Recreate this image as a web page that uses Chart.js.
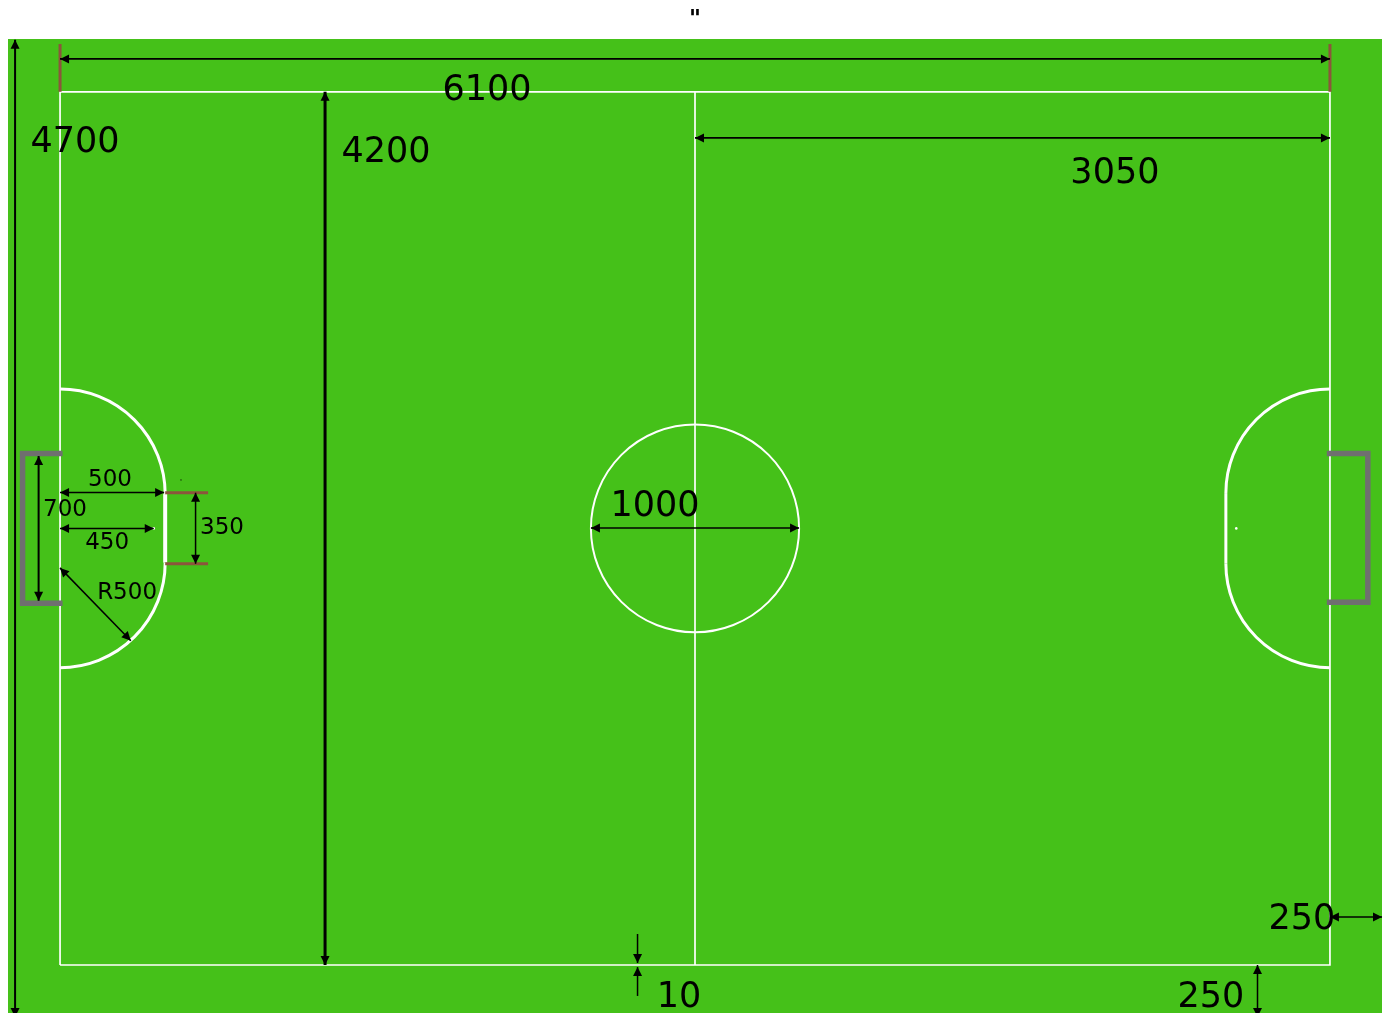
<!DOCTYPE html>
<html>
<head>
<meta charset="utf-8">
<title>Field dimensions</title>
<script src="https://cdn.jsdelivr.net/npm/chart.js@4/dist/chart.umd.min.js"></script>
<style>
  html, body { margin: 0; padding: 0; background: #fff; overflow: hidden; }
  canvas { display: block; }
</style>
</head>
<body>
<canvas id="field" width="1388" height="1013"></canvas>
<script>
// field dimensions, all in mm-like units
const xRange = [-250, 6350];
const yRange = [-231, 4454];

const pitchOutline = [[0, 0], [6100, 0], [6100, 4200], [0, 4200], [0, 0]];
const halfwayLine = [[3050, 0], [3050, 4200]];
const penaltyLineLeft = [[505, 1935], [505, 2265]];
const penaltyLineRight = [[5600, 1930], [5600, 2270]];
const goalLeft = [[12, 2460], [-180, 2460], [-180, 1740], [12, 1740]];
const goalRight = [[6085, 2460], [6282, 2460], [6282, 1745], [6085, 1745]];

// x, y, radius, start angle, end angle (degrees, canvas direction)
const centreCircle = [3050, 2100, 500, 0, 360];
const arcTopLeft = [0, 2265, 505, 270, 360];
const arcBottomLeft = [0, 1935, 505, 0, 90];
const arcTopRight = [6100, 2270, 500, 180, 270];
const arcBottomRight = [6100, 1930, 500, 90, 180];

const penaltySpots = [[450, 2100], [5650, 2100]];
const strayDot = [[581, 2333]];

const tickLeftWidth = [[0, 4200], [0, 4430]];
const tickRightWidth = [[6100, 4200], [6100, 4430]];
const tickTopArea = [[505, 2272], [711, 2272]];
const tickBottomArea = [[505, 1930], [711, 1930]];

const arrowTotalHeight = [[-216, -250], [-216, 4450]];
const arrowWidth = [[0, 4358], [6100, 4358]];
const arrowHeight = [[1273, 0], [1273, 4200]];
const arrowHalfWidth = [[3050, 3978], [6100, 3978]];
const arrowCircle = [[2550, 2102], [3550, 2102]];
const arrowArea = [[0, 2273], [500, 2273]];
const arrowSpot = [[0, 2100], [450, 2100]];
const arrowGoal = [[-103, 2448], [-103, 1752]];
const arrowOpening = [[651, 2272], [651, 1930]];
const arrowRadius = [[0, 1910], [340, 1560]];
const arrowLineUpper = [[2774, 149], [2774, 10]];
const arrowLineLower = [[2774, -149], [2774, -10]];
const arrowMarginRight = [[6100, 231], [6350, 231]];
const arrowMarginBottom = [[5752, 0], [5752, -250]];

const labelTexts = ['6100', '4700', '4200', '3050', '1000', '10', '250', '250', '500', '700', '450', '350', 'R500'];
const labelX = [2051, 72, 1566, 5067, 2858, 2973, 5965, 5528, 240, 24, 226, 778, 322];
const labelY = [4206, 3956, 3908, 3807, 2205, -156, 219, -156, 2331, 2186, 2028, 2100, 1787];
const labelSizes = [35, 35, 35, 35, 35, 35, 35, 35, 23, 23, 23, 23, 23];

const GRASS = '#45c119';
const WHITE = '#ffffff';
const GREY = '#6f6f6f';
const BROWN = '#8c553c';
const BLACK = '#000000';

function line(points, color, width, heads) {
    return {
        data: points.map(p => ({ x: p[0], y: p[1] })),
        showLine: true,
        borderColor: color,
        borderWidth: width,
        pointRadius: 0,
        heads: heads || null
    };
}

function arc(values, width) {
    return {
        data: [{ x: values[0], y: values[1] }],
        showLine: false,
        pointRadius: 0,
        arc: { r: values[2], start: values[3], end: values[4], width: width }
    };
}

function dots(points, color, radius) {
    return {
        data: points.map(p => ({ x: p[0], y: p[1] })),
        showLine: false,
        pointRadius: radius,
        pointBorderWidth: 0,
        pointBackgroundColor: color
    };
}

const fieldBackground = {
    id: 'fieldBackground',
    beforeDraw(chart) {
        const a = chart.chartArea;
        chart.ctx.save();
        chart.ctx.fillStyle = GRASS;
        chart.ctx.fillRect(a.left, a.top, a.width, a.height);
        chart.ctx.restore();
    }
};

// circle and penalty arcs, radius goes through the scales
const fieldArcs = {
    id: 'fieldArcs',
    beforeDatasetsDraw(chart) {
        const ctx = chart.ctx;
        const sx = chart.scales.x, sy = chart.scales.y;
        chart.data.datasets.forEach((ds, i) => {
            if (!ds.arc) return;
            const el = chart.getDatasetMeta(i).data[0];
            const rx = Math.abs(sx.getPixelForValue(ds.arc.r) - sx.getPixelForValue(0));
            const ry = Math.abs(sy.getPixelForValue(ds.arc.r) - sy.getPixelForValue(0));
            ctx.save();
            ctx.strokeStyle = WHITE;
            ctx.lineWidth = ds.arc.width;
            ctx.beginPath();
            ctx.ellipse(el.x, el.y, rx, ry, 0, ds.arc.start * Math.PI / 180, ds.arc.end * Math.PI / 180);
            ctx.stroke();
            ctx.restore();
        });
    }
};

function drawHead(ctx, tip, from) {
    const angle = Math.atan2(tip.y - from.y, tip.x - from.x);
    ctx.save();
    ctx.translate(tip.x, tip.y);
    ctx.rotate(angle);
    ctx.beginPath();
    ctx.moveTo(0, 0);
    ctx.lineTo(-9, -4.5);
    ctx.lineTo(-9, 4.5);
    ctx.closePath();
    ctx.fill();
    ctx.restore();
}

// arrow heads and dimension texts
const annotations = {
    id: 'annotations',
    afterDatasetsDraw(chart) {
        const ctx = chart.ctx;
        const a = chart.chartArea;
        ctx.save();
        ctx.beginPath();
        ctx.rect(a.left, a.top, a.width, a.height);
        ctx.clip();
        ctx.fillStyle = BLACK;
        chart.data.datasets.forEach((ds, i) => {
            if (!ds.heads) return;
            const pts = chart.getDatasetMeta(i).data;
            drawHead(ctx, pts[1], pts[0]);
            if (ds.heads === 'both') drawHead(ctx, pts[0], pts[1]);
        });
        ctx.textAlign = 'center';
        ctx.textBaseline = 'middle';
        labelTexts.forEach((t, i) => {
            ctx.font = labelSizes[i] + 'px "DejaVu Sans"';
            ctx.fillText(t, chart.scales.x.getPixelForValue(labelX[i]), chart.scales.y.getPixelForValue(labelY[i]));
        });
        ctx.restore();
    }
};

const datasets = [
    line(arrowTotalHeight, BLACK, 2, 'both'),
    line(arrowWidth, BLACK, 1.7, 'both'),
    line(arrowHeight, BLACK, 3, 'both'),
    line(arrowHalfWidth, BLACK, 1.7, 'both'),
    line(arrowCircle, BLACK, 1.5, 'both'),
    line(arrowArea, BLACK, 1.5, 'both'),
    line(arrowSpot, BLACK, 1.5, 'both'),
    line(arrowGoal, BLACK, 2, 'both'),
    line(arrowOpening, BLACK, 1.5, 'both'),
    line(arrowRadius, BLACK, 1.5, 'both'),
    line(arrowLineUpper, BLACK, 1.5, 'end'),
    line(arrowLineLower, BLACK, 1.5, 'end'),
    line(arrowMarginRight, BLACK, 1.5, 'both'),
    line(arrowMarginBottom, BLACK, 1.5, 'both'),
    dots(strayDot, BLACK, 0.6),
    dots(penaltySpots, WHITE, 1.3),
    line(tickLeftWidth, BROWN, 3),
    line(tickRightWidth, BROWN, 3),
    line(tickTopArea, BROWN, 3),
    line(tickBottomArea, BROWN, 3),
    line(goalLeft, GREY, 5.5),
    line(goalRight, GREY, 5.5),
    line(penaltyLineLeft, WHITE, 4),
    line(penaltyLineRight, WHITE, 3),
    line(halfwayLine, WHITE, 1.7),
    line(pitchOutline, WHITE, 1.7),
    arc(centreCircle, 2),
    arc(arcTopLeft, 3),
    arc(arcBottomLeft, 3),
    arc(arcTopRight, 3),
    arc(arcBottomRight, 3)
];

new Chart(document.getElementById('field'), {
    type: 'scatter',
    data: { datasets: datasets },
    options: {
        responsive: false,
        animation: false,
        layout: { autoPadding: false, padding: { left: 8, right: 6, bottom: 0, top: 0 } },
        scales: {
            x: { type: 'linear', display: false, min: xRange[0], max: xRange[1] },
            y: { type: 'linear', display: false, min: yRange[0], max: yRange[1] }
        },
        plugins: {
            legend: { display: false },
            tooltip: { enabled: false },
            title: {
                display: true,
                text: '"',
                color: '#000',
                font: { family: 'DejaVu Sans', size: 23, weight: 'bold' },
                padding: { top: 6, bottom: 5.4 }
            }
        }
    },
    plugins: [fieldBackground, fieldArcs, annotations]
});
</script>
</body>
</html>
